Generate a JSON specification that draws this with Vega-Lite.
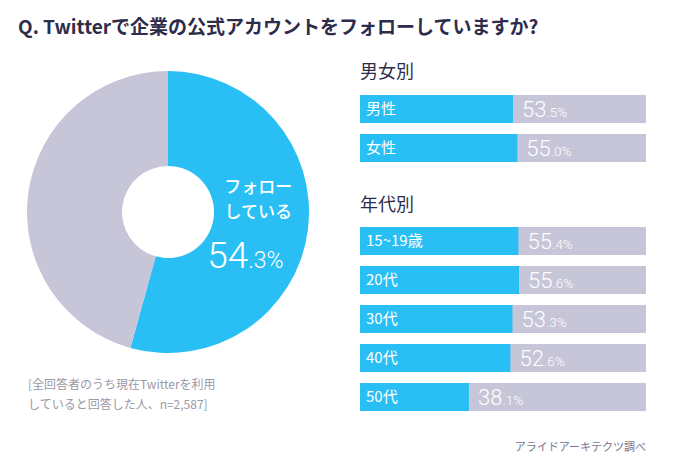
{
  "$schema": "https://vega.github.io/schema/vega-lite/v6.json",
  "background": "white",
  "padding": {"left": 18, "top": 19, "right": 10, "bottom": 5},
  "config": {"view": {"stroke": null}, "font": "Noto Sans CJK JP"},
  "title": {"text": "Q. Twitterで企業の公式アカウントをフォローしていますか?", "anchor": "start", "fontSize": 19, "font": "Noto Sans CJK JP", "fontWeight": "bold", "color": "#2E2C4B", "offset": 26},
  "spacing": 42,
  "hconcat": [
    {
      "width": 300,
      "height": 234,
      "data": {"values": [
        {"cat": "フォローしている", "value": 54.3, "label": "フォロー\nしている", "int": "54", "dec": ".3%"},
        {"cat": "フォローしていない", "value": 45.7, "label": "", "int": "", "dec": ""}
      ]},
      "title": {"text": ["[全回答者のうち現在Twitterを利用", "していると回答した人、n=2,587]"], "orient": "bottom", "anchor": "start", "fontSize": 12, "fontWeight": "normal", "color": "#9A99A8", "dx": 10, "offset": 27, "lineHeight": 20},
      "encoding": {
        "theta": {"field": "value", "type": "quantitative", "stack": true},
        "order": {"field": "value", "type": "quantitative", "sort": "descending"}
      },
      "layer": [
        {"mark": {"type": "arc", "outerRadius": 141, "innerRadius": 46},
         "encoding": {"color": {"field": "cat", "type": "nominal", "scale": {"domain": ["フォローしている", "フォローしていない"], "range": ["#29BFF4", "#C7C5D8"]}, "legend": null}}},
        {"mark": {"type": "text", "radius": 90, "lineBreak": "\n", "lineHeight": 25, "fontSize": 17, "fontWeight": 500, "color": "white", "baseline": "top", "align": "center", "dx": 1, "dy": -44},
         "encoding": {"text": {"field": "label"}}},
        {"mark": {"type": "text", "radius": 90, "font": "Roboto", "fontWeight": 300, "fontSize": 37, "color": "white", "baseline": "alphabetic", "align": "right", "dx": -9, "dy": 44},
         "encoding": {"text": {"field": "int"}}},
        {"mark": {"type": "text", "radius": 90, "font": "Roboto", "fontWeight": 300, "fontSize": 23, "color": "white", "baseline": "alphabetic", "align": "left", "dx": -9, "dy": 44},
         "encoding": {"text": {"field": "dec"}}}
      ]
    },
    {
      "spacing": 35,
      "vconcat": [
        {
          "width": 286,
          "height": 67,
          "title": {"text": "男女別", "anchor": "start", "fontSize": 18, "fontWeight": "normal", "color": "#2E2C4B", "offset": 13},
          "data": {"values": [
            {"group": "男性", "value": 53.5, "int": "53", "dec": ".5%"},
            {"group": "女性", "value": 55.0, "int": "55", "dec": ".0%"}
          ]},
          "encoding": {"y": {"field": "group", "type": "nominal", "sort": null, "axis": null, "scale": {"paddingInner": 0.282, "paddingOuter": 0}}},
          "layer": [
            {"mark": {"type": "bar", "color": "#C7C5D8"}, "encoding": {"x": {"datum": 100, "type": "quantitative", "scale": {"domain": [0, 100]}, "axis": null}}},
            {"mark": {"type": "bar", "color": "#29BFF4"}, "encoding": {"x": {"field": "value", "type": "quantitative", "scale": {"domain": [0, 100]}, "axis": null}}},
            {"mark": {"type": "text", "align": "left", "dx": 6, "color": "white", "fontSize": 15, "fontWeight": "normal"}, "encoding": {"x": {"datum": 0, "type": "quantitative"}, "text": {"field": "group"}}},
            {"mark": {"type": "text", "align": "left", "dx": 9, "baseline": "alphabetic", "dy": 8, "fontSize": 22, "font": "Roboto", "fontWeight": 300, "color": "white"}, "encoding": {"x": {"field": "value", "type": "quantitative"}, "text": {"field": "int"}}},
            {"mark": {"type": "text", "align": "left", "dx": 33.5, "baseline": "alphabetic", "dy": 8, "fontSize": 13.5, "font": "Roboto", "fontWeight": 300, "color": "white"}, "encoding": {"x": {"field": "value", "type": "quantitative"}, "text": {"field": "dec"}}}
          ]
        },
        {
          "width": 286,
          "height": 184,
          "title": {"text": "年代別", "anchor": "start", "fontSize": 18, "fontWeight": "normal", "color": "#2E2C4B", "offset": 12},
          "data": {"values": [
            {"group": "15~19歳", "value": 55.4, "int": "55", "dec": ".4%"},
            {"group": "20代", "value": 55.6, "int": "55", "dec": ".6%"},
            {"group": "30代", "value": 53.3, "int": "53", "dec": ".3%"},
            {"group": "40代", "value": 52.6, "int": "52", "dec": ".6%"},
            {"group": "50代", "value": 38.1, "int": "38", "dec": ".1%"}
          ]},
          "encoding": {"y": {"field": "group", "type": "nominal", "sort": null, "axis": null, "scale": {"paddingInner": 0.282, "paddingOuter": 0}}},
          "layer": [
            {"mark": {"type": "bar", "color": "#C7C5D8"}, "encoding": {"x": {"datum": 100, "type": "quantitative", "scale": {"domain": [0, 100]}, "axis": null}}},
            {"mark": {"type": "bar", "color": "#29BFF4"}, "encoding": {"x": {"field": "value", "type": "quantitative", "scale": {"domain": [0, 100]}, "axis": null}}},
            {"mark": {"type": "text", "align": "left", "dx": 6, "color": "white", "fontSize": 15, "fontWeight": "normal"}, "encoding": {"x": {"datum": 0, "type": "quantitative"}, "text": {"field": "group"}}},
            {"mark": {"type": "text", "align": "left", "dx": 9, "baseline": "alphabetic", "dy": 8, "fontSize": 22, "font": "Roboto", "fontWeight": 300, "color": "white"}, "encoding": {"x": {"field": "value", "type": "quantitative"}, "text": {"field": "int"}}},
            {"mark": {"type": "text", "align": "left", "dx": 33.5, "baseline": "alphabetic", "dy": 8, "fontSize": 13.5, "font": "Roboto", "fontWeight": 300, "color": "white"}, "encoding": {"x": {"field": "value", "type": "quantitative"}, "text": {"field": "dec"}}}
          ]
        }
      ],
      "title": {"text": "アライドアーキテクツ調べ", "orient": "bottom", "anchor": "end", "fontSize": 11, "fontWeight": "normal", "color": "#77758C", "offset": 31}
    }
  ]
}
